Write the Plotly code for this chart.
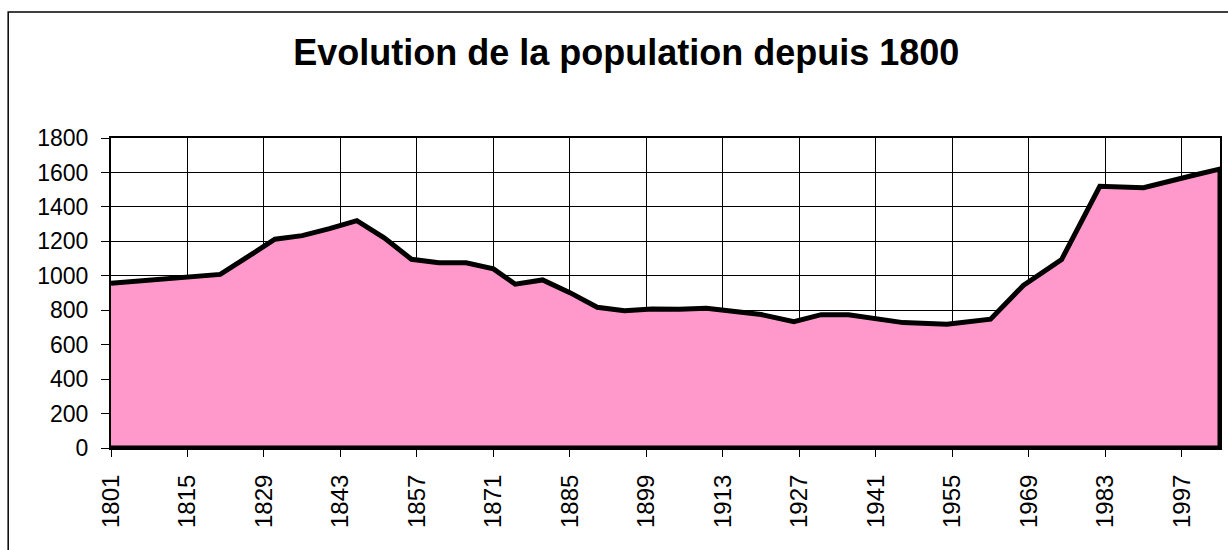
import plotly.graph_objects as go

# Census years and population counts
years = [1801, 1821, 1831, 1836, 1841, 1846, 1851, 1856, 1861, 1866,
         1871, 1875, 1880, 1885, 1890, 1895, 1900, 1905, 1910, 1920,
         1926, 1931, 1936, 1946, 1954, 1962, 1968, 1975, 1982, 1990,
         1999, 2004]
population = [956, 1008, 1212, 1233, 1274, 1320, 1220, 1096, 1076, 1076,
              1040, 951, 976, 902, 817, 797, 807, 805, 812, 775,
              733, 774, 774, 728, 718, 748, 944, 1094, 1520, 1511,
              1582, 1620]

x_ticks = list(range(1801, 2004, 14))
y_ticks = list(range(0, 1801, 200))

title_text = "Evolution de la population depuis 1800"
FONT = "Liberation Sans, Arial, sans-serif"

# Closed outline: the series plus the baseline, so the border runs all round
poly_x = years + [years[-1], years[0]]
poly_y = population + [0, 0]

fig = go.Figure()
fig.add_trace(go.Scatter(
    x=poly_x, y=poly_y,
    mode="lines",
    fill="toself",
    fillcolor="#FF99CC",
    line=dict(color="black", width=5),
    hoverinfo="skip",
    showlegend=False,
))

fig.update_layout(
    width=1228, height=550,
    margin=dict(l=111, r=6, t=138, b=102),
    paper_bgcolor="white",
    plot_bgcolor="white",
    font=dict(family=FONT, color="black"),
    title=dict(
        text="<b>" + title_text + "</b>",
        x=0.51, xref="container", xanchor="center",
        y=0.905, yref="container", yanchor="middle",
        font=dict(family=FONT, size=36, color="black"),
    ),
    xaxis=dict(
        range=[years[0], years[-1]],
        tickmode="array", tickvals=x_ticks,
        ticktext=[str(t) for t in x_ticks],
        tickangle=-90,
        ticks="outside", ticklen=7, tickwidth=1, tickcolor="black",
        tickfont=dict(family=FONT, size=24, color="black"),
        ticklabelstandoff=8,
        showgrid=True, gridcolor="black", gridwidth=1,
        showline=True, linecolor="black", linewidth=2, mirror=True,
        zeroline=False,
    ),
    yaxis=dict(
        range=[0, 1800],
        tickmode="array", tickvals=y_ticks,
        ticks="outside", ticklen=8, tickwidth=1, tickcolor="black",
        tickfont=dict(family=FONT, size=23, color="black"),
        ticklabelstandoff=8,
        showgrid=True, gridcolor="black", gridwidth=1,
        showline=True, linecolor="black", linewidth=2, mirror=True,
        zeroline=False,
    ),
    shapes=[
        # outer chart frame
        dict(type="rect", xref="paper", yref="paper",
             x0=(8 - 111) / 1111, x1=(1240 - 111) / 1111,
             y0=(448 - 560) / 310, y1=(448 - 12) / 310,
             line=dict(color="black", width=1.5), fillcolor="rgba(0,0,0,0)",
             layer="below"),
    ],
)

fig.write_html("out.html")
